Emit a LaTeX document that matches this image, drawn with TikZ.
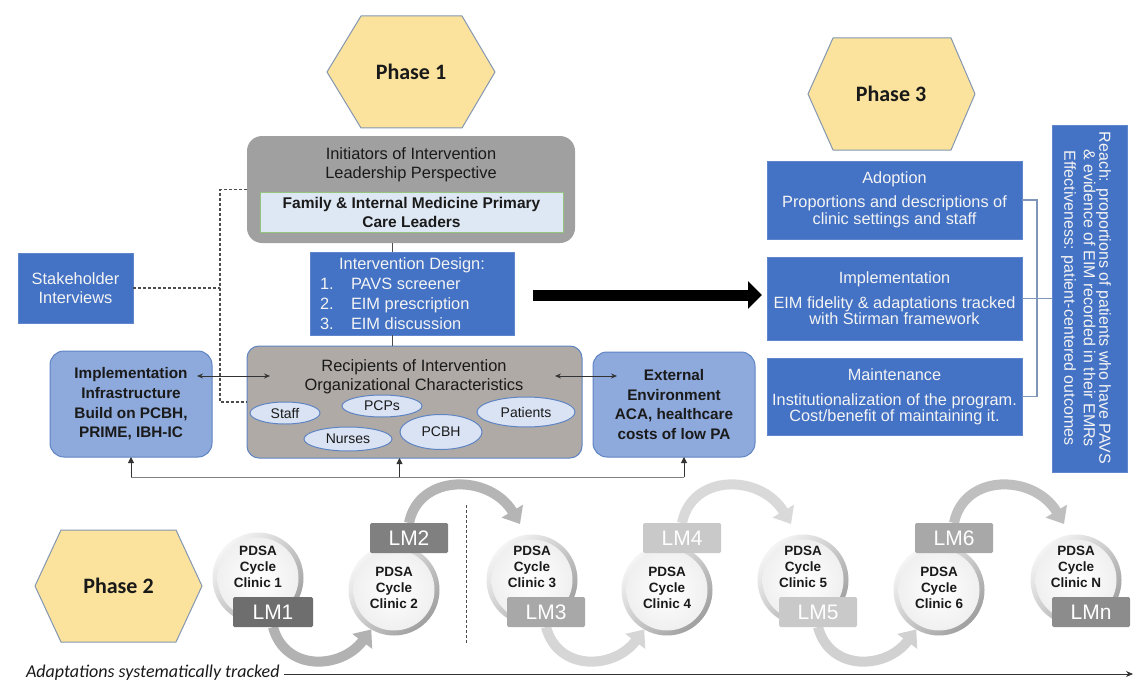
\documentclass[tikz,border=0pt]{standalone}
\usepackage{fontspec}
\setmainfont{Liberation Sans}
\newfontfamily\calibri{Carlito}
\usetikzlibrary{arrows.meta,shapes.geometric,calc}
\definecolor{hexfill}{HTML}{FBE39E}
\definecolor{hexline}{HTML}{8497B0}
\definecolor{dblue}{HTML}{4472C4}
\definecolor{lblue}{HTML}{8EA9DB}
\definecolor{lbline}{HTML}{5F84C4}
\definecolor{ellfill}{HTML}{DAE3F3}
\definecolor{initgray}{HTML}{A0A0A0}
\definecolor{recgray}{HTML}{AFAAA5}
\definecolor{innerfill}{HTML}{DEE8F4}
\definecolor{innerline}{HTML}{94C47D}
\definecolor{txtwhite}{HTML}{F4F4F4}
\definecolor{txtdark}{HTML}{1A1A1A}
\definecolor{brk}{HTML}{8096B8}
\begin{document}
\begin{tikzpicture}[x=1pt,y=-1pt,
  every node/.style={inner sep=0pt, outer sep=0pt},
  phase/.style={font=\calibri\bfseries\fontsize{22}{22}\selectfont, text=black!90},
  hexa/.style={fill=hexfill, draw=hexline, line width=1pt, line join=round},
  mtext/.style={font=\fontsize{16.4}{19.5}\selectfont, align=center, text=txtdark},
  wtext/.style={mtext, text=txtwhite},
  bluebox/.style={draw=dblue!85!white, fill=dblue, line width=0.8pt},
  lbbox/.style={draw=lbline, fill=lblue, line width=1pt, rounded corners=14pt,
     font=\bfseries\fontsize{15.3}{19.7}\selectfont, align=center, text=txtdark},
  ell/.style={ellipse, draw=lbline, fill=ellfill, line width=1pt, font=\fontsize{14}{14}\selectfont, text=txtdark},
  ring/.style={circle, minimum size=91pt, top color=gray!8, bottom color=gray!75, shading angle=45},
  disk/.style={circle, minimum size=81pt, inner color=white, outer color=gray!12},
  ctext/.style={font=\bfseries\fontsize{13.5}{16}\selectfont, align=center, text=txtdark},
  lmbox/.style={rectangle, rounded corners=1.5pt, minimum width=78pt, minimum height=30pt, font=\fontsize{21}{21}\selectfont, text=white},
  lmarr/.style={line width=10pt, -{Triangle[length=15pt,width=24pt]}},
  dashl/.style={draw=black!70, line width=1.1pt, dash pattern=on 3pt off 2pt},
  thinarr/.style={draw=black!80, line width=0.7pt, {Stealth[length=6pt,width=5pt]}-{Stealth[length=6pt,width=5pt]}},
  connl/.style={draw=black!70, line width=0.9pt},
  bus/.style={draw=gray, line width=0.9pt},
  busarr/.style={bus, -{Triangle[length=6pt,width=6pt]}, black!80},
  bracket/.style={draw=brk, line width=1.2pt},
]
\useasboundingbox[fill=white] (0,0) rectangle (1137,682);

% hexagons
\path[hexa] (327,72) -- (361,16) -- (462,16) -- (495,72) -- (462,128) -- (361,128) -- cycle;
\node[phase] (ph1) at (411,72) {Phase 1};
\path[hexa] (808,94) -- (833,38) -- (951,38) -- (975,94) -- (951,150) -- (833,150) -- cycle;
\node[phase] (ph3) at (891,94) {Phase 3};
\path[hexa] (35,586) -- (61,530) -- (176,530) -- (202,586) -- (176,642) -- (61,642) -- cycle;
\node[phase] (ph2) at (118.5,586) {Phase 2};

% initiators
\node[fill=initgray, rounded corners=15pt, minimum width=328pt, minimum height=107pt] (init) at (411,189.5) {};
\node[mtext] (inittxt) at (411,165) {Initiators of Intervention\\Leadership Perspective};
\node[fill=innerfill, draw=innerline, line width=1pt, minimum width=303pt, minimum height=40pt,
  font=\bfseries\fontsize{15.5}{19}\selectfont, align=center, text=txtdark] (leaders) at (411.5,212)
  {Family \& Internal Medicine Primary\\Care Leaders};

% design
\node[bluebox, minimum width=204pt, minimum height=83pt] (design) at (412,293.5) {};
\node[wtext, font=\fontsize{16.4}{20}\selectfont] (designtxt) at (412,295)
  {\begin{tabular}{@{}p{31pt}@{}p{153pt}@{}}\multicolumn{2}{@{}c@{}}{Intervention Design:}\\1.&PAVS screener\\2.&EIM prescription\\3.&EIM discussion\end{tabular}};

% recipients
\node[fill=recgray, draw=lbline, line width=1pt, rounded corners=12pt, minimum width=335pt, minimum height=112pt] (rec) at (414.5,402) {};
\node[mtext] (rectxt) at (414,377) {Recipients of Intervention\\Organizational Characteristics};
\node[ell, minimum width=70pt, minimum height=22pt] (staff) at (285,413) {Staff};
\node[ell, minimum width=80pt, minimum height=22pt] (pcps) at (382,406) {PCPs};
\node[ell, minimum width=98pt, minimum height=30pt] (patients) at (526,412) {Patients};
\node[ell, minimum width=88pt, minimum height=24pt] (nurses) at (348,439) {Nurses};
\node[ell, minimum width=82pt, minimum height=35pt] (pcbh) at (441,432) {PCBH};

% vertical connectors
\coordinate (lx) at (392,0);
\draw[connl] (init.south -| lx) -- (design.north -| lx);
\draw[connl] (design.south -| lx) -- (rec.north -| lx);

% stakeholder
\node[bluebox, wtext, minimum width=115pt, minimum height=70pt] (stake) at (75.5,288) {Stakeholder\\Interviews};
\coordinate (dashx) at (220,300);
\draw[dashl] (init.west) -| (dashx) |- (rec.west);
\draw[dashl] (stake.east) -- (stake.east -| dashx);

% side boxes
\node[lbbox, minimum width=162pt, minimum height=106pt] (impl) at (131,404) {Implementation\\Infrastructure\\Build on PCBH,\\PRIME, IBH-IC};
\node[lbbox, minimum width=162pt, minimum height=105pt] (ext) at (674,404.5) {External\\Environment\\ACA, healthcare\\costs of low PA};

\coordinate (la) at (197,376);
\coordinate (lb) at (270,376);
\coordinate (ra) at (555,376);
\coordinate (rb) at (617,376);
\draw[thinarr] (la) -- (lb);
\draw[thinarr] (ra) -- (rb);

% bus
\coordinate (busy) at (0,477);
\coordinate (bx2) at ($(rec.south)+(-15,0)$);
\coordinate (bx3) at ($(ext.south)+(10,0)$);
\draw[bus] (impl.south |- busy) -- (bx3 |- busy);
\draw[busarr] (impl.south |- busy) -- (impl.south);
\draw[busarr] (bx2 |- busy) -- (bx2);
\draw[busarr] (bx3 |- busy) -- (bx3);

% big arrow
\coordinate (bka) at (533,295);
\coordinate (bkb) at (762,295);
\draw[line width=11pt, -{Triangle[length=14pt,width=27pt]}] (bka) -- (bkb);

% right boxes
\node[bluebox, wtext, font=\fontsize{16.3}{17}\selectfont, minimum width=255pt, minimum height=78pt] (adopt) at (894.5,200)
  {Adoption\\[7pt]Proportions and descriptions of\\clinic settings and staff};
\node[bluebox, wtext, font=\fontsize{16.3}{16.5}\selectfont, minimum width=255pt, minimum height=83pt] (implr) at (894.5,298.5)
  {Implementation\\[8pt]EIM fidelity \& adaptations tracked\\with Stirman framework};
\node[bluebox, wtext, font=\fontsize{16.3}{15.5}\selectfont, minimum width=255pt, minimum height=77pt] (maint) at (894.5,396.5)
  {Maintenance\\[10pt]Institutionalization of the program.\\Cost/benefit of maintaining it.};
\node[bluebox, minimum width=75pt, minimum height=347pt] (reach) at (1089.5,298.5) {};
\node[wtext, rotate=-90, font=\fontsize{16}{15.5}\selectfont] (reachtxt) at (1086,298)
  {Reach: proportions of patients who have PAVS\\\& evidence of EIM recorded in their EMRs\\[4pt]Effectiveness: patient-centered outcomes};
\draw[bracket] (adopt.east) -- ++(15,0) |- (maint.east);
\draw[bracket] (implr.east) -- (reach.west |- implr.east);

% bottom: circles
\foreach \n/\x/\y in {1/258/578, 2/394/590, 3/532/580, 4/667/590, 5/803/580, 6/939/590, N/1076/580}{
  \node[ring] (c\n) at (\x,\y) {};
  \node[disk] (d\n) at (\x,\y) {};
}
\node[ctext] (t1) at (258,567) {PDSA\\Cycle\\Clinic 1};
\node[ctext] (t2) at (394,588) {PDSA\\Cycle\\Clinic 2};
\node[ctext] (t3) at (532,567) {PDSA\\Cycle\\Clinic 3};
\node[ctext] (t4) at (667,588) {PDSA\\Cycle\\Clinic 4};
\node[ctext] (t5) at (803,567) {PDSA\\Cycle\\Clinic 5};
\node[ctext] (t6) at (939,588) {PDSA\\Cycle\\Clinic 6};
\node[ctext] (tN) at (1076,567) {PDSA\\Cycle\\Clinic N};

% LM boxes (positions) then curved arrows drawn beneath via layering order
\coordinate (p1) at (273,612);
\coordinate (p2) at (409,538);
\coordinate (p3) at (546,612);
\coordinate (p4) at (682,538);
\coordinate (p5) at (818,612);
\coordinate (p6) at (954,538);
\coordinate (pn) at (1091,612);

\draw[lmarr, color=gray!60] ($(p1)+(0,15)$) .. controls +(12,45) and +(-30,40) .. (c2.240);
\draw[lmarr, color=gray!58] ($(p2)+(0,-15)$) .. controls +(10,-50) and +(-30,-50) .. ($(c3.center)+(-12,-56)$);
\draw[lmarr, color=gray!32] ($(p3)+(0,15)$) .. controls +(12,45) and +(-30,40) .. (c4.240);
\draw[lmarr, color=gray!30] ($(p4)+(0,-15)$) .. controls +(10,-50) and +(-30,-50) .. ($(c5.center)+(-12,-56)$);
\draw[lmarr, color=gray!36] ($(p5)+(0,15)$) .. controls +(12,45) and +(-30,40) .. (c6.240);
\draw[lmarr, color=gray!50] ($(p6)+(0,-15)$) .. controls +(10,-50) and +(-30,-50) .. ($(cN.center)+(-12,-56)$);

\node[lmbox, fill=black!57, minimum width=80pt] (lm1) at (p1) {LM1};
\node[lmbox, fill=black!50] (lm2) at (p2) {LM2};
\node[lmbox, fill=black!34] (lm3) at (p3) {LM3};
\node[lmbox, fill=black!21] (lm4) at (p4) {LM4};
\node[lmbox, fill=black!21] (lm5) at (p5) {LM5};
\node[lmbox, fill=black!34] (lm6) at (p6) {LM6};
\node[lmbox, fill=black!45] (lmn) at (pn) {LMn};

% dashed separator
\coordinate (dv1) at (466,505);
\coordinate (dv2) at (466,643);
\draw[dashl, line width=1pt] (dv1) -- (dv2);

% adaptations
\node[font=\calibri\itshape\fontsize{18}{18}\selectfont, anchor=west, text=txtdark] (adapt) at (26,673) {Adaptations systematically tracked};
\coordinate (adend) at (1133,674);
\draw[draw=black!80, line width=0.8pt, -{Stealth[length=7pt,width=6pt]}] ($(adapt.east)+(4,1)$) -- (adend);
\end{tikzpicture}
\end{document}
